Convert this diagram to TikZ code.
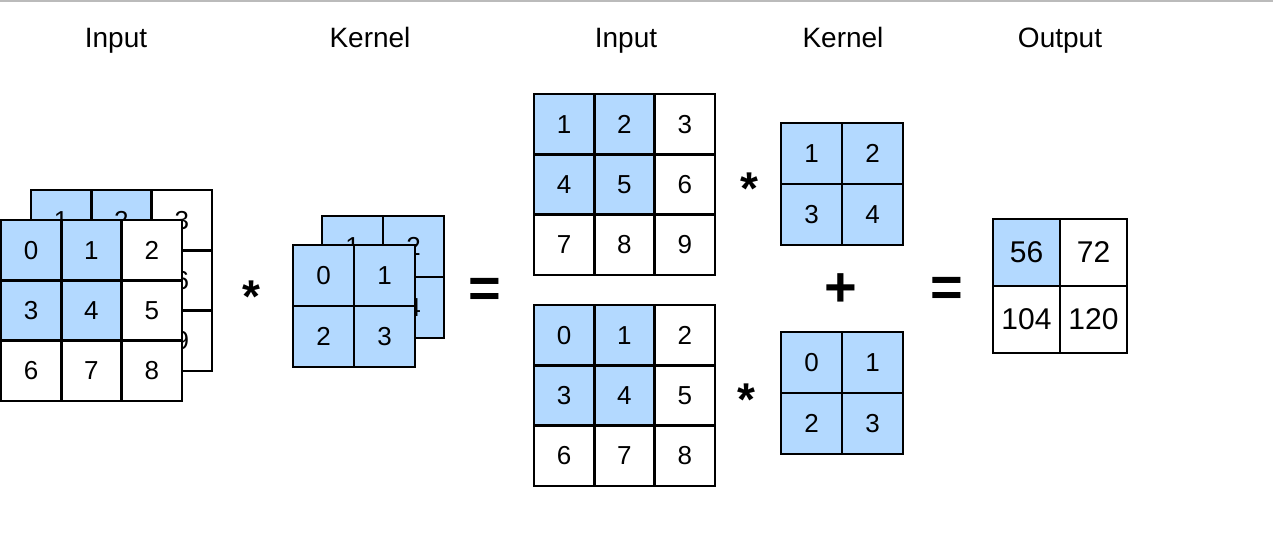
\documentclass[tikz,border=0pt]{standalone}
\usepackage{fontspec}
\setmainfont{Liberation Sans}
\definecolor{cblue}{RGB}{179,217,255}
\definecolor{topline}{RGB}{187,187,187}
\tikzset{
  cellbox/.style={draw=black, line width=2.7pt, outer sep=0pt, inner sep=0pt, anchor=north west},
  lbl/.style={font=\fontsize{28}{28}\selectfont, anchor=base, inner sep=0pt},
  opsym/.style={font=\bfseries\fontsize{56}{56}\selectfont, anchor=base, inner sep=0pt},
  astsym/.style={font=\bfseries\fontsize{46}{46}\selectfont, anchor=base, inner sep=0pt}
}
% #1 prefix, #2 x0, #3 y0, #4 cell, #5 font size, #6 entries col/row/text/fill
\newcommand{\cellgrid}[6]{%
  \foreach \cc/\rr/\tt/\ff [count=\ii] in {#6} {
    \node[cellbox, minimum size=#4pt, fill=\ff, font=\fontsize{#5}{#5}\selectfont] (#1\ii) at ({#2+\cc*#4},{#3+\rr*#4}) {\tt};
  }}
\begin{document}
\begin{tikzpicture}[x=1pt,y=-1pt]
\useasboundingbox (0,0) rectangle (1273,544);
\coordinate (tl) at (0,1);
\coordinate (tr) at (1273,1);
\draw[topline, line width=2pt] (tl) -- (tr);
% labels
\node[lbl] (l1) at (116,47) {Input};
\node[lbl] (l2) at (370,47) {Kernel};
\node[lbl] (l3) at (626,47) {Input};
\node[lbl] (l4) at (843,47) {Kernel};
\node[lbl] (l5) at (1060,47) {Output};
% left stacked input
\cellgrid{bi}{31}{190}{60.3}{26}{0/0/1/cblue,1/0/2/cblue,2/0/3/white,0/1/4/cblue,1/1/5/cblue,2/1/6/white,0/2/7/white,1/2/8/white,2/2/9/white}
\cellgrid{fi}{1}{220}{60.3}{26}{0/0/0/cblue,1/0/1/cblue,2/0/2/white,0/1/3/cblue,1/1/4/cblue,2/1/5/white,0/2/6/white,1/2/7/white,2/2/8/white}
% left stacked kernel
\cellgrid{bk}{322}{216}{61}{26}{0/0/1/cblue,1/0/2/cblue,0/1/3/cblue,1/1/4/cblue}
\cellgrid{fk}{293}{245}{61}{26}{0/0/0/cblue,1/0/1/cblue,0/1/2/cblue,1/1/3/cblue}
% right inputs
\cellgrid{ti}{534}{94}{60.3}{26}{0/0/1/cblue,1/0/2/cblue,2/0/3/white,0/1/4/cblue,1/1/5/cblue,2/1/6/white,0/2/7/white,1/2/8/white,2/2/9/white}
\cellgrid{di}{534}{305}{60.3}{26}{0/0/0/cblue,1/0/1/cblue,2/0/2/white,0/1/3/cblue,1/1/4/cblue,2/1/5/white,0/2/6/white,1/2/7/white,2/2/8/white}
% right kernels
\cellgrid{tk}{781}{123}{61}{26}{0/0/1/cblue,1/0/2/cblue,0/1/3/cblue,1/1/4/cblue}
\cellgrid{dk}{781}{332}{61}{26}{0/0/0/cblue,1/0/1/cblue,0/1/2/cblue,1/1/3/cblue}
% output
\cellgrid{out}{993}{219}{67}{30}{0/0/56/cblue,1/0/72/white,0/1/104/white,1/1/120/white}
% operators
\node[astsym] (a1) at (251,312) {*};
\node[astsym] (a2) at (749,204) {*};
\node[astsym] (a3) at (746,415) {*};
\node[opsym] (e1) at (485,307) {=};
\node[opsym] (e2) at (947,306) {=};
\node[opsym] (p1) at (841,306) {+};
\end{tikzpicture}
\end{document}
